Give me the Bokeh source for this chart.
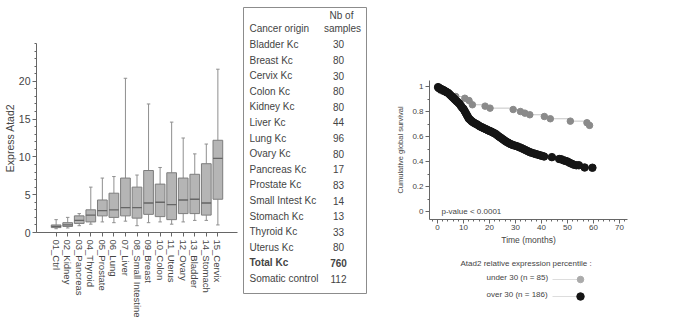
from bokeh.plotting import figure
from bokeh.layouts import row, column
from bokeh.models import Range1d, FixedTicker, SingleIntervalTicker, CustomJSTickFormatter, ColumnDataSource
from bokeh.embed import file_html
from bokeh.resources import INLINE
from bokeh.core.properties import value

FONT = "Liberation Sans"
TXT = "#444444"

# ---- Atad2 expression by tissue (box plot summaries) ----
tissues = ["01_Ctrl", "02_Kidney", "03_Pancreas", "04_Thyroid", "05_Prostate", "06_Lung",
           "07_Liver", "08_Small Intestine", "09_Breast", "10_Colon", "11_Uterus",
           "12_Ovary", "13_Bladder", "14_Stomach", "15_Cervix"]
whisker_low = [0.5, 0.6, 0.9, 1.1, 1.4, 1.3, 1.5, 0.9, 1.3, 1.4, 1.1, 1.4, 1.6, 1.6, 1.0]
q1 = [0.65, 0.8, 1.2, 1.4, 2.2, 2.0, 2.2, 1.9, 2.4, 2.1, 1.7, 2.5, 2.5, 2.3, 4.4]
median = [0.8, 1.0, 1.6, 2.3, 2.9, 3.0, 3.3, 3.3, 3.9, 4.0, 3.7, 4.3, 4.4, 3.9, 9.8]
q3 = [1.0, 1.3, 2.2, 3.0, 4.3, 5.2, 7.2, 6.0, 8.2, 6.4, 7.9, 7.2, 7.7, 9.1, 12.2]
whisker_high = [1.7, 2.0, 2.5, 6.0, 7.2, 7.4, 20.4, 7.6, 17.0, 8.6, 14.6, 12.5, 10.4, 11.7, 21.6]
expr_ticks = [0, 5, 10, 15, 20]

# ---- sample counts per cancer origin ----
origins = ["Bladder Kc", "Breast Kc", "Cervix Kc", "Colon Kc", "Kidney Kc", "Liver Kc",
           "Lung Kc", "Ovary Kc", "Pancreas Kc", "Prostate Kc", "Small Intest Kc",
           "Stomach Kc", "Thyroid Kc", "Uterus Kc", "Total Kc", "Somatic control"]
sample_counts = [30, 80, 30, 80, 80, 44, 96, 80, 17, 83, 14, 13, 33, 80, 760, 112]

# ---- survival curves (months, cumulative survival) ----
under30_t = [0.3, 1.3, 2.2, 3.2, 4.5, 7.0, 10.5, 12.1, 13.4, 18.3, 20.2, 29.1, 31.9,
             33.6, 35.5, 41.1, 43.4, 51.1, 57.5, 58.5]
under30_s = [0.985, 0.968, 0.96, 0.955, 0.94, 0.92, 0.906, 0.888, 0.854, 0.843, 0.827,
             0.816, 0.80, 0.787, 0.774, 0.76, 0.742, 0.723, 0.71, 0.689]
over30_t = [0.2, 0.5, 0.8, 1.1, 1.5, 1.9, 2.3, 2.7, 3.1, 3.5, 4.0, 4.5, 5.0, 5.5, 6.0,
            6.5, 7.0, 7.5, 8.0, 8.5, 9.0, 9.5, 10.0, 10.4, 10.8, 11.2, 11.6, 12.0, 12.5,
            13.0, 13.5, 14.0, 14.6, 15.2, 15.8, 16.4, 17.0, 17.6, 18.2, 18.8, 19.4, 20.0,
            20.6, 21.2, 21.8, 22.4, 23.0, 23.6, 24.2, 24.8, 25.4, 26.0, 26.6, 27.2, 27.8,
            28.4, 29.0, 29.8, 30.6, 31.4, 32.2, 33.0, 33.8, 34.6, 35.4, 36.2, 37.0, 37.8,
            38.6, 39.4, 40.2, 41.0, 44.0, 46.8, 47.6, 48.4, 49.2, 50.0, 50.8, 51.6, 52.4,
            53.4, 54.4, 56.6, 59.6]
over30_s = [0.995, 0.99, 0.985, 0.98, 0.978, 0.975, 0.97, 0.965, 0.96, 0.955, 0.95, 0.94,
            0.93, 0.92, 0.91, 0.90, 0.89, 0.88, 0.87, 0.86, 0.845, 0.83, 0.82, 0.805, 0.79,
            0.775, 0.76, 0.745, 0.735, 0.725, 0.717, 0.71, 0.703, 0.697, 0.688, 0.68, 0.675,
            0.668, 0.663, 0.657, 0.65, 0.645, 0.64, 0.633, 0.627, 0.62, 0.61, 0.60, 0.592,
            0.583, 0.574, 0.565, 0.557, 0.55, 0.543, 0.537, 0.532, 0.527, 0.522, 0.515,
            0.508, 0.50, 0.492, 0.484, 0.476, 0.47, 0.465, 0.46, 0.455, 0.45, 0.445, 0.44,
            0.435, 0.42, 0.418, 0.41, 0.405, 0.40, 0.39, 0.383, 0.375, 0.37, 0.37, 0.352, 0.35]
legend_labels = ["under 30 (n = 85)", "over 30 (n = 186)"]
GRAY_DOT = "#8a8a8a"
LEGEND_GRAY = "#ababab"
BLACK_DOT = "#151515"


def style_axes(p, size):
    for ax in p.axis:
        ax.axis_line_color = "#666666"
        ax.major_tick_line_color = "#666666"
        ax.minor_tick_line_color = "#666666"
        ax.major_tick_in = 0
        ax.major_tick_out = 4
        ax.minor_tick_in = 0
        ax.minor_tick_out = 2
        ax.major_label_text_font = FONT
        ax.major_label_text_color = TXT
        ax.major_label_text_font_size = size
        ax.axis_label_text_font = FONT
        ax.axis_label_text_color = TXT
        ax.axis_label_text_font_style = "normal"


# ---------------- box plot ----------------
xpos = list(range(1, len(tissues) + 1))
p1 = figure(width=240, height=324, x_range=Range1d(-0.7, 16.7), y_range=Range1d(0, 25),
            output_backend="svg", toolbar_location=None, frame_align=False,
            min_border_left=32, min_border_right=3, min_border_top=43, min_border_bottom=92)
p1.grid.visible = False
p1.outline_line_color = None

src = ColumnDataSource(dict(x=xpos, lo=whisker_low, q1=q1, med=median, q3=q3, hi=whisker_high,
                            xl=[x - 0.42 for x in xpos], xr=[x + 0.42 for x in xpos],
                            cl=[x - 0.15 for x in xpos], cr=[x + 0.15 for x in xpos]))
p1.segment(x0="x", y0="q3", x1="x", y1="hi", source=src, line_color="#8f8f8f", line_width=1)
p1.segment(x0="x", y0="lo", x1="x", y1="q1", source=src, line_color="#8f8f8f", line_width=1)
p1.segment(x0="cl", y0="hi", x1="cr", y1="hi", source=src, line_color="#8f8f8f", line_width=1)
p1.segment(x0="cl", y0="lo", x1="cr", y1="lo", source=src, line_color="#8f8f8f", line_width=1)
p1.quad(left="xl", right="xr", bottom="q1", top="q3", source=src,
        fill_color="#b5b5b5", line_color="#7d7d7d", line_width=1)
p1.segment(x0="xl", y0="med", x1="xr", y1="med", source=src, line_color="#666666", line_width=1.3)

p1.xaxis.ticker = FixedTicker(ticks=xpos)
p1.xaxis.major_label_overrides = {x: t for x, t in zip(xpos, tissues)}
p1.xaxis.major_label_orientation = "vertical"
p1.xaxis.major_label_standoff = 3
p1.yaxis.ticker = FixedTicker(ticks=expr_ticks, minor_ticks=list(range(0, 26)))
p1.yaxis.axis_label = "Express Atad2"
p1.yaxis.axis_label_standoff = 0
p1.yaxis.major_label_standoff = 2
style_axes(p1, "10px")
p1.xaxis.major_label_text_font_size = "9.5px"
p1.yaxis.major_label_text_font_size = "10.5px"
p1.yaxis.axis_label_text_font_size = "10.5px"

# ---------------- sample table ----------------
rows = list(range(len(origins)))
p2 = figure(width=150, height=324, x_range=Range1d(0, 123), y_range=Range1d(15.96, -2.37),
            output_backend="svg", toolbar_location=None, frame_align=False,
            x_axis_location=None, y_axis_location=None,
            min_border_left=3, min_border_right=24, min_border_top=7, min_border_bottom=31)
p2.grid.visible = False
p2.outline_line_color = "#8c8c8c"
p2.outline_line_width = 1
styles = ["bold" if o.startswith("Total") else "normal" for o in origins]
tsrc = ColumnDataSource(dict(y=rows, name=origins, n=[str(c) for c in sample_counts], st=styles))
p2.text(x=6, y="y", text="name", source=tsrc, text_font=value(FONT), text_font_size="10px",
        text_color=TXT, text_baseline="middle", text_align="left", text_font_style="st")
p2.text(x=95, y="y", text="n", source=tsrc, text_font=value(FONT), text_font_size="10px",
        text_color=TXT, text_baseline="middle", text_align="center", text_font_style="st")
p2.text(x=[6, 98, 99], y=[-1.0, -1.86, -1.03], text=["Cancer origin", "Nb of", "samples"],
        text_align=["left", "center", "center"], text_font=value(FONT), text_font_size="10px",
        text_color=TXT, text_baseline="middle")

# ---------------- survival curves ----------------
p3 = figure(width=300, height=250, x_range=Range1d(-3.1, 73.1), y_range=Range1d(-0.064, 1.048),
            output_backend="svg", toolbar_location=None, frame_align=False,
            min_border_left=39, min_border_right=63, min_border_top=80, min_border_bottom=31)
p3.grid.visible = False
p3.outline_line_color = None
p3.step(under30_t, under30_s, mode="after", line_color="#c4c4c4", line_width=1)
p3.step(over30_t, over30_s, mode="after", line_color="#555555", line_width=1)
p3.scatter(under30_t, under30_s, size=6.5, fill_color=GRAY_DOT, line_color=GRAY_DOT)
p3.scatter(over30_t, over30_s, size=7.5, fill_color=BLACK_DOT, line_color=BLACK_DOT)
p3.text(x=[1.5], y=[0.0], text=["p-value < 0.0001"], text_font=value(FONT),
        text_font_size="8px", text_color=TXT, text_baseline="middle")
p3.xaxis.ticker = SingleIntervalTicker(interval=10, num_minor_ticks=5)
p3.yaxis.ticker = SingleIntervalTicker(interval=0.2, num_minor_ticks=2)
p3.yaxis.formatter = CustomJSTickFormatter(code="return (Math.round(tick * 10) / 10).toString();")
p3.xaxis.axis_label = "Time (months)"
p3.yaxis.axis_label = "Cumulative global survival"
p3.xaxis.major_label_standoff = 1
p3.xaxis.axis_label_standoff = 2
p3.yaxis.major_label_standoff = 2
p3.yaxis.axis_label_standoff = 4
style_axes(p3, "8px")
p3.xaxis.axis_label_text_font_size = "8.5px"
p3.yaxis.axis_label_text_font_size = "7.5px"

# legend panel below the survival plot
p4 = figure(width=300, height=74, x_range=Range1d(0, 300), y_range=Range1d(74, 0),
            output_backend="svg", toolbar_location=None, frame_align=False,
            x_axis_location=None, y_axis_location=None,
            min_border_left=0, min_border_right=0, min_border_top=0, min_border_bottom=0)
p4.grid.visible = False
p4.outline_line_color = None
p4.text(x=[70], y=[13], text=["Atad2 relative expression percentile :"], text_font=value(FONT),
        text_font_size="8px", text_color=TXT, text_baseline="middle")
item_y = [27, 44]
p4.text(x=[96, 96], y=item_y, text=legend_labels, text_font=value(FONT),
        text_font_size="8px", text_color=TXT, text_baseline="middle")
p4.segment(x0=[162, 162], y0=[y + 2 for y in item_y], x1=[190, 190], y1=[y + 2 for y in item_y],
           line_color="#dddddd", line_width=1)
p4.scatter(x=[190, 190], y=[y + 2 for y in item_y], size=[6.5, 7.5],
           fill_color=[LEGEND_GRAY, BLACK_DOT], line_color=[LEGEND_GRAY, BLACK_DOT])

layout = row(p1, p2, column(p3, p4))
open("out.html", "w").write(file_html(layout, INLINE))
